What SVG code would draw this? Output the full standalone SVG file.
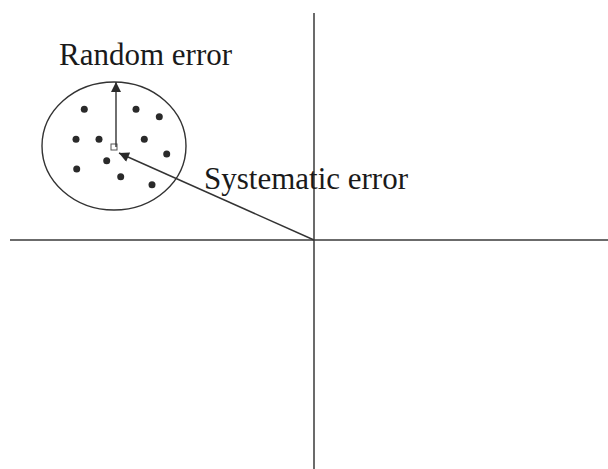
<svg xmlns="http://www.w3.org/2000/svg" width="608" height="469" viewBox="0 0 608 469">
<defs>
<style>
.ax{stroke:#3a3a3a;stroke-width:1.5;fill:none}
.ln{stroke:#333;stroke-width:1.4;fill:none}
.dot{fill:#2a2a2a}
.lbl{font-family:"Liberation Serif","Times New Roman",serif;font-size:31px;fill:#1a1a1a}
</style>
<marker id="ah" viewBox="0 0 10 10" refX="10" refY="5" markerWidth="12" markerHeight="10" markerUnits="userSpaceOnUse" orient="auto">
<path d="M0,0 L10,5 L0,10 Z" fill="#2a2a2a"/>
</marker>
</defs>
<rect width="608" height="469" fill="#fff"/>
<g id="axes">
<line class="ax" x1="314" y1="13" x2="314" y2="469"/>
<line class="ax" x1="10" y1="240" x2="608" y2="240"/>
</g>
<g id="cluster">
<ellipse class="ln" cx="114" cy="146" rx="72" ry="64"/>
<circle class="dot" cx="84.3" cy="109.3" r="3.5"/>
<circle class="dot" cx="136" cy="109.3" r="3.5"/>
<circle class="dot" cx="159.3" cy="116.7" r="3.5"/>
<circle class="dot" cx="76" cy="139.3" r="3.5"/>
<circle class="dot" cx="99" cy="139.3" r="3.5"/>
<circle class="dot" cx="144.3" cy="139.3" r="3.5"/>
<circle class="dot" cx="166.7" cy="154" r="3.5"/>
<circle class="dot" cx="106.7" cy="160.7" r="3.5"/>
<circle class="dot" cx="76.7" cy="169" r="3.5"/>
<circle class="dot" cx="120.7" cy="176.7" r="3.5"/>
<circle class="dot" cx="152" cy="184.7" r="3.5"/>
<rect x="111" y="144" width="6" height="6" fill="none" stroke="#555" stroke-width="1"/>
</g>
<g id="connectors">
<line class="ln" x1="116" y1="147" x2="116" y2="82" marker-end="url(#ah)"/>
<line class="ln" x1="314" y1="240" x2="119" y2="153" marker-end="url(#ah)"/>
</g>
<g id="labels">
<text class="lbl" x="59" y="65">Random error</text>
<text class="lbl" x="204" y="189">Systematic error</text>
</g>
</svg>
